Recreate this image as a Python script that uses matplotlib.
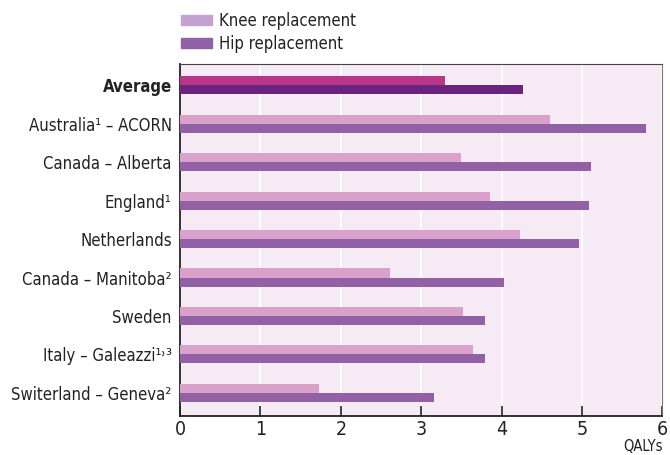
import matplotlib.pyplot as plt
from matplotlib.patches import Patch

# data
labels = ['Average', 'Australia¹ – ACORN', 'Canada – Alberta', 'England¹', 'Netherlands',
          'Canada – Manitoba²', 'Sweden', 'Italy – Galeazzi¹˒³', 'Switerland – Geneva²']
knee = [3.30, 4.60, 3.49, 3.86, 4.23, 2.61, 3.52, 3.64, 1.73]
hip = [4.26, 5.79, 5.11, 5.09, 4.96, 4.03, 3.79, 3.79, 3.16]
xticks = [0, 1, 2, 3, 4, 5, 6]

plt.rcParams['font.family'] = ['DejaVu Sans']
plt.rcParams['font.stretch'] = 'condensed'

knee_col, hip_col = '#DAA2CA', '#9260A4'
avg_knee_col, avg_hip_col = '#B8358A', '#6B2380'

fig = plt.figure(figsize=(6.7, 4.55), dpi=100)
ax = fig.add_axes([0.2687, 0.0857, 0.9888 - 0.2687, 0.8593 - 0.0857])
ax.set_facecolor('#F6EBF5')

ys = list(range(len(labels)))
h = 0.235
kc = [avg_knee_col] + [knee_col] * (len(labels) - 1)
hc = [avg_hip_col] + [hip_col] * (len(labels) - 1)
ax.barh([y - h / 2 for y in ys], knee, height=h, color=kc, zorder=3)
ax.barh([y + h / 2 for y in ys], hip, height=h, color=hc, zorder=3)

ax.set_ylim(len(labels) - 1 + 0.6, -0.55)
ax.set_xlim(0, 6)
ax.set_yticks(ys)
ax.set_yticklabels(labels, fontsize=12, color='#222222')
ax.get_yticklabels()[0].set_fontweight('bold')
ax.tick_params(axis='y', length=0, pad=6)
ax.set_xticks(xticks)
ax.set_xticklabels([str(t) for t in xticks], fontsize=14, color='#222222')
ax.tick_params(axis='x', direction='in', length=7, width=1.2, color='#222222', pad=3)

ax.grid(True, axis='x', color='white', linewidth=1.5, zorder=1)
ax.set_axisbelow(True)

for s in ['left', 'bottom']:
    ax.spines[s].set_color('#222222')
    ax.spines[s].set_linewidth(1.3)
ax.spines['top'].set_color('#444444')
ax.spines['right'].set_color('#777777')

fig.text(0.989, 0.003, 'QALYs', ha='right', va='bottom', fontsize=10.5, color='#222222')

handles = [Patch(color='#C4A2CF', label='Knee replacement'),
           Patch(color=hip_col, label='Hip replacement')]
fig.legend(handles=handles, loc='upper left', bbox_to_anchor=(0.252, 1.0), frameon=False,
           fontsize=12, handlelength=1.9, handleheight=0.6, handletextpad=0.4,
           labelspacing=0.3, borderpad=0.2, labelcolor='#222222')

plt.savefig('out.png', dpi=100)
plt.close()
